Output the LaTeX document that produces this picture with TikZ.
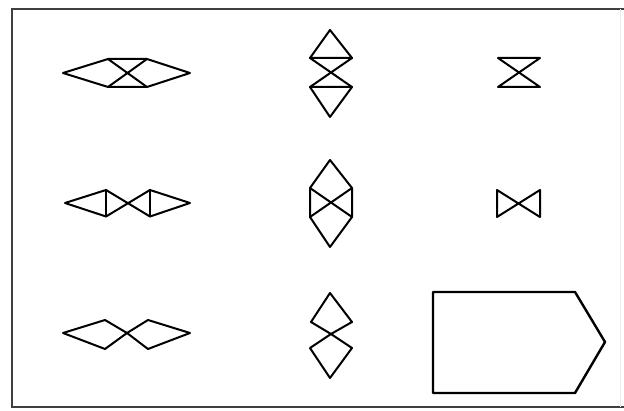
\documentclass[tikz,border=0pt]{standalone}
\begin{document}
\begin{tikzpicture}[x=1pt,y=-1pt,
  shp/.style={draw=black,line width=2pt,line join=round,line cap=round},
  frame/.style={draw=black!75,line width=2.5pt}]
\useasboundingbox (0,0) rectangle (624,411);
% frame
\draw[frame] (624,9) -- (12,9) -- (12,407) -- (624,407);
\draw[draw=black!8,line width=1pt] (620,9) -- (620,407);
% row 1 col 1
\draw[shp] (63,73) -- (108,59) -- (147,59) -- (190,73) -- (147,87) -- (108,87) -- cycle;
\draw[shp] (108,59) -- (147,87) (147,59) -- (108,87);
% row 1 col 2
\draw[shp] (330,30) -- (352,58) -- (310,58) -- cycle;
\draw[shp] (310,58) -- (352,87) (352,58) -- (310,87);
\draw[shp] (310,87) -- (352,87) -- (330,117) -- cycle;
% row 1 col 3
\draw[shp] (498,58) -- (540,58) -- (498,87) -- (540,87) -- cycle;
% row 2 col 1
\draw[shp] (65,203) -- (106,190) -- (150,216.5) -- (190,203) -- (150,190) -- (106,216.5) -- cycle;
\draw[shp] (106,190) -- (106,216.5) (150,190) -- (150,216.5);
% row 2 col 2
\draw[shp] (330,160) -- (352,188) -- (352,217) -- (330,247) -- (310,217) -- (310,188) -- cycle;
\draw[shp] (310,188) -- (352,217) (352,188) -- (310,217);
% row 2 col 3
\draw[shp] (497,190) -- (540,217) -- (540,190) -- (497,217) -- cycle;
% row 3 col 1
\draw[shp] (63,333) -- (105,320) -- (127,333) -- (148,320) -- (190,333) -- (148,349) -- (127,333) -- (105,349) -- cycle;
% row 3 col 2
\draw[shp] (330,293) -- (352,322) -- (331,334) -- (311,322) -- cycle;
\draw[shp] (331,334) -- (352,348) -- (330,378) -- (310,348) -- cycle;
% pentagon
\draw[shp,line width=2.4pt] (433,292) -- (575,292) -- (605,342) -- (575,393) -- (433,393) -- cycle;
\end{tikzpicture}
\end{document}
